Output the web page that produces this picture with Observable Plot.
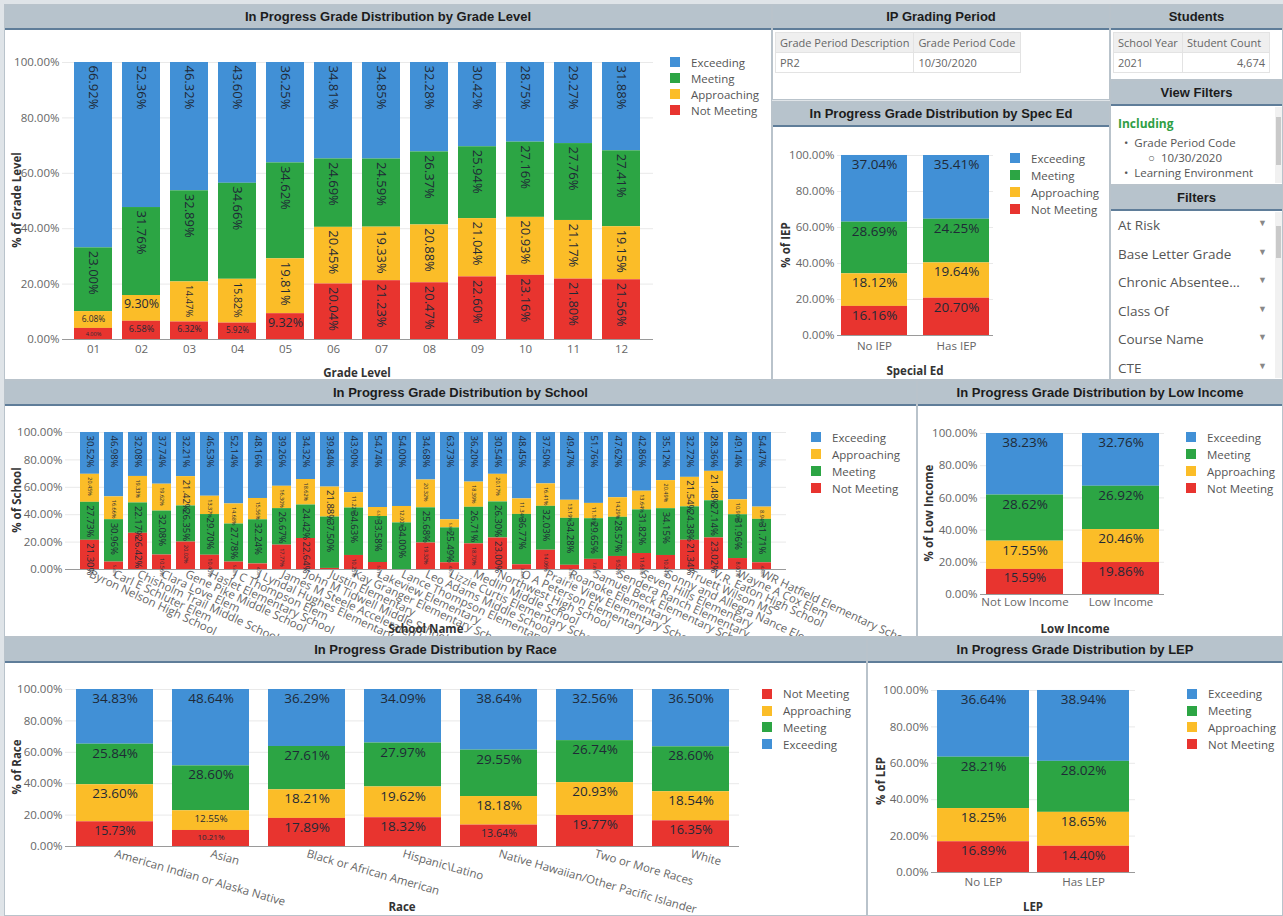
<!DOCTYPE html>
<html><head><meta charset="utf-8">
<script src="https://cdn.jsdelivr.net/npm/d3@7"></script>
<script src="https://cdn.jsdelivr.net/npm/@observablehq/plot@0.6"></script>
<style>
body{margin:0;background:#dfe4e8;width:1283px;height:916px;overflow:hidden;position:relative;font-family:"Open Sans",sans-serif;}
.panel{position:absolute;border:1px solid #b9c3cb;box-sizing:border-box;background:#fff;overflow:hidden;}
.hdr{position:absolute;left:0;right:0;top:0;height:23px;background:#b7c3cc;border-bottom:2px solid #5f7d99;font:bold 13px "Liberation Sans",Arial,sans-serif;color:#1c1c1c;text-align:center;line-height:24px;}
.legend{font-size:11.5px;color:#555;white-space:nowrap;}
.legend .row{display:flex;align-items:center;}
.legend .sw{display:inline-block;width:10px;height:10px;margin-right:11px;}
.ytitle{font-weight:700;font-size:11.5px;color:#333;white-space:nowrap;transform:translate(-50%,-50%) rotate(-90deg);}
.xtitle{font-weight:700;font-size:11.5px;color:#333;white-space:nowrap;transform:translate(-50%,-50%);}
table.t{border-collapse:collapse;font-size:11px;color:#666;}
table.t td{border:1px solid #e3e3e3;height:19px;padding:0 4px;white-space:nowrap;}
table.t tr.h td{background:#efefef;}
.sb{position:absolute;background:#f1f1f1;}
.sb div{position:absolute;left:1px;right:1px;background:#c9c9c9;}
</style>
</head><body>
<script>
// ---------- DATA ----------
const statusNames = ["Exceeding","Meeting","Approaching","Not Meeting"];
const statusColors = ["#4190d6","#2ca544","#fbbd28","#e8342f"];

const gradeLevels = ["01","02","03","04","05","06","07","08","09","10","11","12"];
const gradeExceeding   = [66.92,52.36,46.32,43.60,36.25,34.81,34.85,32.28,30.42,28.75,29.27,31.88];
const gradeMeeting     = [23.00,31.76,32.89,34.66,34.62,24.69,24.59,26.37,25.94,27.16,27.76,27.41];
const gradeApproaching = [6.08,9.30,14.47,15.82,19.81,20.45,19.33,20.88,21.04,20.93,21.17,19.15];
const gradeNotMeeting  = [4.00,6.58,6.32,5.92,9.32,20.04,21.23,20.47,22.60,23.16,21.80,21.56];

const specEdCats = ["No IEP","Has IEP"];
const specExceeding   = [37.04,35.41];
const specMeeting     = [28.69,24.25];
const specApproaching = [18.12,19.64];
const specNotMeeting  = [16.16,20.70];

const schoolNames = ["Byron Nelson High School","Carl E Schluter Elem","Chisholm Trail Middle School","Clara Love Elem","Gene Pike Middle School","Haslet Elementary School","J C Thompson Elem","J Lyndal Hughes Elementary","James M Steele Accelerated High School","John M Tidwell Middle School","Justin Elementary","Kay Granger Elementary School","Lakeview Elementary","Lance Thompson Elementary School","Leo Adams Middle School","Lizzie Curtis Elementary School","Medlin Middle School","Northwest High School","O A Peterson Elementary","Prairie View Elementary School","Roanoke Elementary","Samuel Beck Elementary School","Sendera Ranch Elementary","Seven Hills Elementary","Sonny and Allegra Nance Elementary","Truett Wilson MS","V.R. Eaton High School","Wayne A Cox Elem","WR Hatfield Elementary School"];
const schoolExceeding   = [30.52,46.98,32.08,37.74,32.21,46.53,52.14,48.16,39.26,34.32,39.84,43.90,54.74,54.00,34.68,63.73,36.20,30.54,48.45,37.50,49.47,51.76,47.62,42.86,35.12,32.72,28.36,49.14,54.47];
const schoolApproaching = [20.45,16.66,19.33,19.62,21.42,13.37,14.68,15.56,16.30,18.62,21.88,11.22,6.57,12.00,20.32,5.88,18.39,20.17,11.34,16.41,13.19,11.18,14.29,13.64,20.49,21.54,21.48,10.90,8.94];
const schoolMeeting     = [27.73,30.96,22.17,32.08,26.35,29.70,27.78,32.24,26.67,24.42,37.50,34.63,33.58,34.00,25.68,25.49,26.71,26.30,36.77,32.03,34.28,29.65,28.57,31.82,34.15,24.38,27.14,31.96,31.71];
const schoolNotMeeting  = [21.30,5.40,26.42,10.56,20.02,10.40,5.40,4.04,17.77,22.64,0.78,10.25,5.11,0.00,19.32,4.90,18.70,23.00,3.44,14.06,3.06,7.41,9.52,11.68,10.24,21.34,23.02,8.00,4.88];

const lowIncomeCats = ["Not Low Income","Low Income"];
const lowExceeding   = [38.23,32.76];
const lowMeeting     = [28.62,26.92];
const lowApproaching = [17.55,20.46];
const lowNotMeeting  = [15.59,19.86];

const raceCats = ["American Indian or Alaska Native","Asian","Black or African American","Hispanic\\Latino","Native Hawaiian/Other Pacific Islander","Two or More Races","White"];
const raceExceeding   = [34.83,48.64,36.29,34.09,38.64,32.56,36.50];
const raceMeeting     = [25.84,28.60,27.61,27.97,29.55,26.74,28.60];
const raceApproaching = [23.60,12.55,18.21,19.62,18.18,20.93,18.54];
const raceNotMeeting  = [15.73,10.21,17.89,18.32,13.64,19.77,16.35];

const lepCats = ["No LEP","Has LEP"];
const lepExceeding   = [36.64,38.94];
const lepMeeting     = [28.21,28.02];
const lepApproaching = [18.25,18.65];
const lepNotMeeting  = [16.89,14.40];

const yTicks = [0,20,40,60,80,100];

// ---------- HELPERS ----------
const colorOf = n => statusColors[statusNames.indexOf(n)];
const fmt = v => v.toFixed(2) + "%";

function panel(x,y,w,h,title){
  const p=document.createElement("div");p.className="panel";
  Object.assign(p.style,{left:x+"px",top:y+"px",width:w+"px",height:h+"px"});
  if(title){const hd=document.createElement("div");hd.className="hdr";hd.textContent=title;p.appendChild(hd);}
  document.body.appendChild(p);p._x=x;p._y=y;return p;
}
function put(p,el,px,py){el.style.position="absolute";el.style.left=(px-p._x-1)+"px";el.style.top=(py-p._y-1)+"px";p.appendChild(el);return el;}
function html(s){const d=document.createElement("div");d.innerHTML=s;return d.firstElementChild||d;}

function legend(p,names,x,y,step){
  const d=document.createElement("div");d.className="legend";
  names.forEach(n=>{const r=document.createElement("div");r.className="row";r.style.height=step+"px";
    r.innerHTML=`<span class="sw" style="background:${colorOf(n)}"></span><span>${n}</span>`;d.appendChild(r);});
  put(p,d,x,y-step/2);
}
function yTitle(p,t,x,y){const d=document.createElement("div");d.className="ytitle";d.textContent=t;put(p,d,x,y);}
function xTitle(p,t,x,y){const d=document.createElement("div");d.className="xtitle";d.textContent=t;put(p,d,x,y);}

function chart(p,cfg){
  const {cats,series,order,left,top,width,height,mt,mb,ml,mr,pin,pout,tickPad,tickRot=0,mode}=cfg;
  const innerH=height-mt-mb;
  const rows=[];
  cats.forEach((c,i)=>series.forEach(s=>rows.push({cat:c,status:s.name,value:s.values[i]})));
  rows.forEach(r=>{
    const px=r.value*innerH/100;
    if(mode==="grade"){r.rot=r.value>=12;r.fs=r.rot?Math.min(13,px*0.24):Math.min(12.5,px*0.5);r.show=r.value>0.5;}
    else if(mode==="school"){r.rot=true;r.fs=r.value>=21?9.5:(r.value>=8?5.5:4);r.show=r.value>=2.5;}
    else {r.rot=false;r.fs=Math.min(13.5,px*0.5);r.show=r.value>0.5;}
  });
  const textBase={x:"cat",y:"value",z:"status",order,text:d=>fmt(d.value),fontSize:d=>d.fs,fill:"#1f2a36"};
  const svg=Plot.plot({
    width,height,marginTop:mt,marginBottom:mb,marginLeft:ml,marginRight:mr,
    style:{fontFamily:"Open Sans",fontSize:"11.5px",color:"#666",background:"transparent",overflow:"visible"},
    x:{domain:cats,paddingInner:pin,paddingOuter:pout,tickSize:0,tickPadding:tickPad,tickRotate:tickRot,label:null},
    y:{domain:[0,100],ticks:5,tickFormat:d=>d.toFixed(2)+"%",tickSize:0,tickPadding:3,label:null},
    color:{domain:statusNames,range:statusColors},
    marks:[
      Plot.ruleY(yTicks.slice(1),{stroke:"#e9e9e9"}),
      Plot.barY(rows,{x:"cat",y:"value",fill:"status",order}),
      Plot.ruleY([0],{stroke:"#9a9a9a"}),
      Plot.text(rows,Plot.filter(d=>d.rot&&d.show,Plot.stackY2({...textBase,rotate:90,textAnchor:"start",lineAnchor:"middle",dy:3}))),
      Plot.text(rows,Plot.filter(d=>!d.rot&&d.show,Plot.stackY2({...textBase,textAnchor:"middle",lineAnchor:"top",dy:4})))
    ]
  });
  put(p,svg,left,top);
  return svg;
}
const stdOrder=["Not Meeting","Approaching","Meeting","Exceeding"];
const ser=(e,m,a,n)=>[{name:"Exceeding",values:e},{name:"Meeting",values:m},{name:"Approaching",values:a},{name:"Not Meeting",values:n}];

// ---------- PANELS ----------
// Grade level
const p1=panel(4,4,768,376,"In Progress Grade Distribution by Grade Level");
chart(p1,{cats:gradeLevels,series:ser(gradeExceeding,gradeMeeting,gradeApproaching,gradeNotMeeting),order:stdOrder,
  left:6,top:31,width:763,height:346,mt:31,mb:38,ml:56,mr:116,pin:0.2,pout:0.2,tickPad:5,mode:"grade"});
legend(p1,["Exceeding","Meeting","Approaching","Not Meeting"],670,62,16);
yTitle(p1,"% of Grade Level",16,200);
xTitle(p1,"Grade Level",357,372);

// IP Grading period
const p2=panel(772,4,338,96,"IP Grading Period");
put(p2,html(`<table class="t"><tr class="h"><td style="width:126px">Grade Period Description</td><td style="width:98px">Grade Period Code</td></tr><tr><td>PR2</td><td>10/30/2020</td></tr></table>`),775,32);

// Spec Ed
const p3=panel(772,101,338,279,"In Progress Grade Distribution by Spec Ed");
chart(p3,{cats:specEdCats,series:ser(specExceeding,specMeeting,specApproaching,specNotMeeting),order:stdOrder,
  left:774,top:129,width:334,height:249,mt:26,mb:43,ml:63,mr:115,pin:0.2,pout:0.05,tickPad:6,mode:"horiz"});
legend(p3,["Exceeding","Meeting","Approaching","Not Meeting"],1010,158,17);
yTitle(p3,"% of IEP",785,245);
xTitle(p3,"Special Ed",915,370);

// Students
const p4=panel(1110,4,173,76,"Students");
put(p4,html(`<table class="t"><tr class="h"><td style="width:60px">School Year</td><td style="width:78px">Student Count</td></tr><tr><td>2021</td><td style="text-align:right">4,674</td></tr></table>`),1113,32);

// View filters
const p5=panel(1110,80,173,105,"View Filters");
put(p5,html(`<div style="font-size:11.5px;color:#555;line-height:15px;white-space:nowrap">
<div style="color:#2f9e44;font-weight:700;font-size:12px;margin-bottom:4px">Including</div>
<div>&nbsp;&nbsp;•&nbsp;&nbsp;Grade Period Code</div>
<div style="padding-left:30px">○&nbsp;&nbsp;10/30/2020</div>
<div>&nbsp;&nbsp;•&nbsp;&nbsp;Learning Environment</div></div>`),1118,116);
const sb1=html(`<div class="sb" style="width:7px;height:76px"><div style="top:10px;height:48px"></div></div>`);put(p5,sb1,1275,107);

// Filters
const p6=panel(1110,185,173,195,"Filters");
const filterItems=["At Risk","Base Letter Grade","Chronic Absentee...","Class Of","Course Name","CTE"];
filterItems.forEach((t,i)=>{
  put(p6,html(`<div style="font-size:13.5px;color:#555;white-space:nowrap;line-height:18px">${t}</div>`),1118,216+i*28.6);
  put(p6,html(`<div style="font-size:9px;color:#888;line-height:10px">▼</div>`),1258,218+i*28.6);
});
const sb2=html(`<div class="sb" style="width:7px;height:166px"><div style="top:14px;height:32px"></div></div>`);put(p6,sb2,1275,212);

// School
const p7=panel(4,380,913,257,"In Progress Grade Distribution by School");
chart(p7,{cats:schoolNames,series:[{name:"Exceeding",values:schoolExceeding},{name:"Approaching",values:schoolApproaching},{name:"Meeting",values:schoolMeeting},{name:"Not Meeting",values:schoolNotMeeting}],
  order:["Not Meeting","Meeting","Approaching","Exceeding"],
  left:6,top:407,width:909,height:228,mt:25,mb:66,ml:59,mr:129,pin:0.2,pout:0.1,tickPad:4,tickRot:25,mode:"school"});
legend(p7,["Exceeding","Approaching","Meeting","Not Meeting"],811,437,17);
yTitle(p7,"% of School",16,500);
xTitle(p7,"School Name",426,628);

// Low income
const p8=panel(917,380,366,257,"In Progress Grade Distribution by Low Income");
chart(p8,{cats:lowIncomeCats,series:ser(lowExceeding,lowMeeting,lowApproaching,lowNotMeeting),order:stdOrder,
  left:919,top:407,width:363,height:228,mt:26,mb:41,ml:61,mr:118,pin:0.2,pout:0.05,tickPad:3,mode:"horiz"});
legend(p8,["Exceeding","Meeting","Approaching","Not Meeting"],1186,437,17);
yTitle(p8,"% of Low Income",928,513);
xTitle(p8,"Low Income",1075,628);

// Race
const p9=panel(4,637,863,279,"In Progress Grade Distribution by Race");
chart(p9,{cats:raceCats,series:ser(raceExceeding,raceMeeting,raceApproaching,raceNotMeeting),order:stdOrder,
  left:6,top:663,width:859,height:253,mt:26,mb:70,ml:59,mr:126,pin:0.2,pout:0.1,tickPad:7,tickRot:16,mode:"horiz"});
legend(p9,["Not Meeting","Approaching","Meeting","Exceeding"],762,694,16.7);
yTitle(p9,"% of Race",16,767);
xTitle(p9,"Race",402,906);

// LEP
const p10=panel(867,637,416,279,"In Progress Grade Distribution by LEP");
chart(p10,{cats:lepCats,series:ser(lepExceeding,lepMeeting,lepApproaching,lepNotMeeting),order:stdOrder,
  left:869,top:663,width:413,height:253,mt:27,mb:44,ml:62,mr:147,pin:0.08,pout:0.05,tickPad:5,mode:"horiz"});
legend(p10,["Exceeding","Meeting","Approaching","Not Meeting"],1187,694,16.7);
yTitle(p10,"% of LEP",880,781);
xTitle(p10,"LEP",1033,906);
</script>
</body></html>
